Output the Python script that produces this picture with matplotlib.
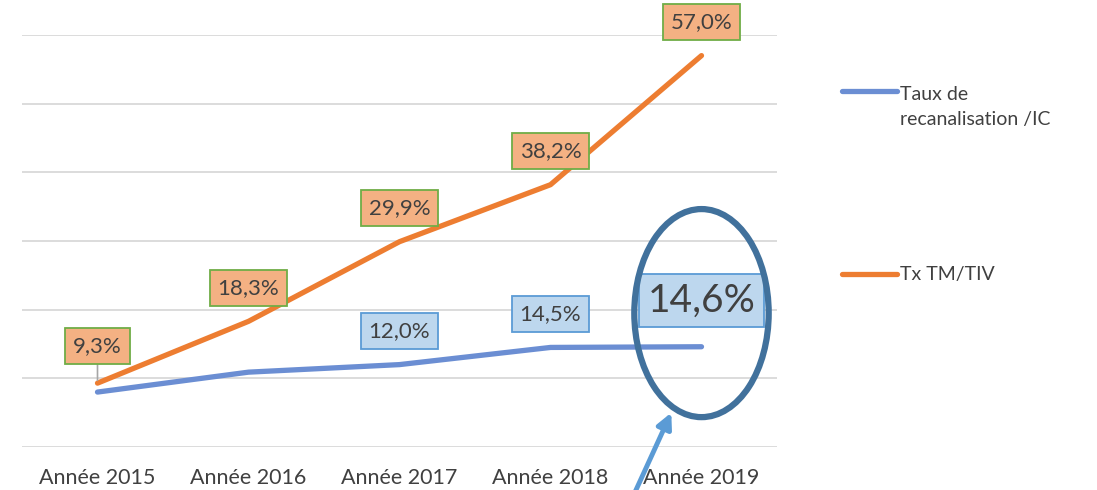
import matplotlib.pyplot as plt
from matplotlib.patches import Ellipse
from matplotlib.lines import Line2D

plt.rcParams['font.family'] = ['Lato', 'DejaVu Sans']

years = ['Année 2015', 'Année 2016', 'Année 2017', 'Année 2018', 'Année 2019']
recanalisation = [8.0, 10.9, 12.0, 14.5, 14.6]
tx_tm_tiv = [9.3, 18.3, 29.9, 38.2, 57.0]
recan_labels = [None, None, '12,0%', '14,5%', '14,6%']
tm_labels = ['9,3%', '18,3%', '29,9%', '38,2%', '57,0%']

BLUE = '#6B8ED3'
ORANGE = '#ED7D31'
TEXT = '#404040'

fig = plt.figure(figsize=(10.97, 4.90), dpi=100)
ax = fig.add_axes([22 / 1097, 1 - 447 / 490, 755 / 1097, 412 / 490])

x = list(range(len(years)))
ax.plot(x, recanalisation, color=BLUE, lw=3.8, solid_capstyle='round', zorder=3)
ax.plot(x, tx_tm_tiv, color=ORANGE, lw=3.8, solid_capstyle='round', zorder=3)

ax.set_xlim(-0.5, 4.5)
ax.set_ylim(0, 60)
ax.set_yticks(range(0, 61, 10))
ax.set_yticklabels([])
ax.tick_params(length=0)
ax.grid(axis='y', color='#d9d9d9', lw=1.3)
ax.set_axisbelow(True)
for s in ax.spines.values():
    s.set_visible(False)
ax.set_xticks(x)
ax.set_xticklabels(years, fontsize=15.5, color=TEXT)
ax.tick_params(axis='x', pad=15)

orange_box = dict(boxstyle='square,pad=0.36', fc='#F4B183', ec='#70AD47', lw=1.3)
blue_box = dict(boxstyle='square,pad=0.36', fc='#BDD7EE', ec='#5B9BD5', lw=1.3)

for i, (v, lab) in enumerate(zip(tx_tm_tiv, tm_labels)):
    kw = {}
    off = 24
    if i == 0:
        off = 27
        kw['arrowprops'] = dict(arrowstyle='-', color='#a6a6a6', lw=1.2, shrinkA=0, shrinkB=2)
    ax.annotate(lab, (i, v), xytext=(0, off), textcoords='offset points',
                ha='center', va='center', fontsize=16, color=TEXT,
                bbox=orange_box, zorder=5, annotation_clip=False, **kw)

for i, (v, lab) in enumerate(zip(recanalisation, recan_labels)):
    if lab is None:
        continue
    if i == 4:
        ax.annotate(lab, (i, v), xytext=(0, 33), textcoords='offset points',
                    ha='center', va='center', fontsize=28, color=TEXT,
                    bbox=dict(boxstyle='square,pad=0.22', fc='#BDD7EE', ec='#5B9BD5', lw=1.3),
                    zorder=5, annotation_clip=False)
    else:
        ax.annotate(lab, (i, v), xytext=(0, 24), textcoords='offset points',
                    ha='center', va='center', fontsize=16, color=TEXT,
                    bbox=blue_box, zorder=5, annotation_clip=False)

# highlight ellipse and arrow on 2019
ell = Ellipse((4, 19.5), 0.89, 30.3, fill=False, ec='#41719C', lw=4.5,
              zorder=6, clip_on=False)
ax.add_patch(ell)
ax.annotate('', xy=(3.80, 5.0), xytext=(3.555, -6.8),
            arrowprops=dict(arrowstyle='-|>,head_width=0.45,head_length=0.9',
                            color='#5B9BD5', lw=3.5, shrinkA=0, shrinkB=0),
            annotation_clip=False, zorder=6)

# legend
fig.add_artist(Line2D([842 / 1097, 897 / 1097], [1 - 91 / 490, 1 - 91 / 490],
                      color=BLUE, lw=3.8, solid_capstyle='round'))
fig.text(900 / 1097, 1 - 107 / 490, 'Taux de\nrecanalisation /IC', fontsize=14,
         color=TEXT, va='center', ha='left', linespacing=1.6)
fig.add_artist(Line2D([842 / 1097, 897 / 1097], [1 - 274 / 490, 1 - 274 / 490],
                      color=ORANGE, lw=3.8, solid_capstyle='round'))
fig.text(900 / 1097, 1 - 274 / 490, 'Tx TM/TIV', fontsize=14, color=TEXT,
         va='center', ha='left')

fig.savefig('out.png', dpi=100)
